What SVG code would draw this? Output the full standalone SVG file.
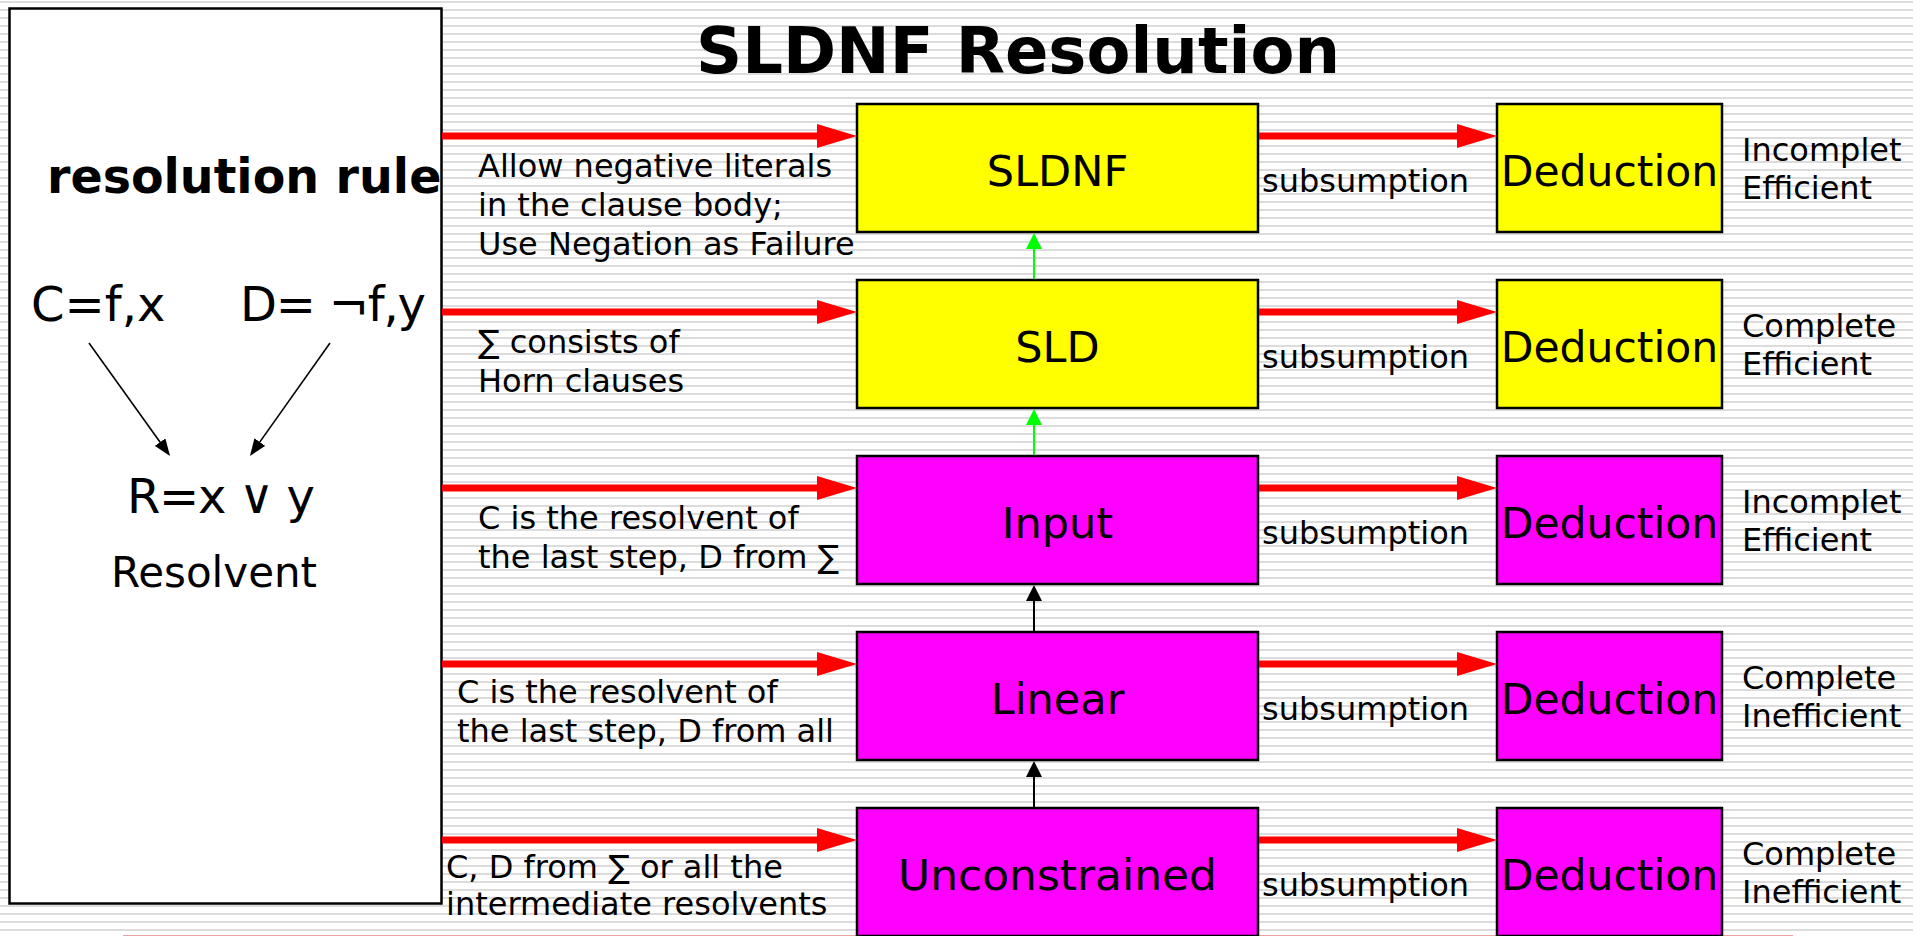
<svg xmlns="http://www.w3.org/2000/svg" width="1926" height="936" viewBox="0 0 1926 936">
  <defs>
    <pattern id="stripes" patternUnits="userSpaceOnUse" width="8" height="8">
      <rect x="0" y="1" width="8" height="2" fill="#dcdcdc"/>
    </pattern>
    <marker id="headRed" markerUnits="userSpaceOnUse" markerWidth="40" markerHeight="24" refX="2" refY="12" orient="auto">
      <path d="M0,0 L40,12 L0,24 z" fill="#ff0000"/>
    </marker>
    <marker id="headGreen" markerUnits="userSpaceOnUse" markerWidth="16" markerHeight="16" refX="1" refY="8" orient="auto">
      <path d="M0,0 L16,8 L0,16 z" fill="#00ff00"/>
    </marker>
    <marker id="headBlack" markerUnits="userSpaceOnUse" markerWidth="16" markerHeight="16" refX="1" refY="8" orient="auto">
      <path d="M0,0 L16,8 L0,16 z" fill="#000000"/>
    </marker>
    <marker id="headThin" markerUnits="userSpaceOnUse" markerWidth="17" markerHeight="13" refX="1" refY="6.5" orient="auto">
      <path d="M0,0 L17,6.5 L0,13 z" fill="#000000"/>
    </marker>
  </defs>
  <style>
    text { font-family: "DejaVu Sans", Verdana, sans-serif; fill: #000; }
    .title { font-size: 64px; font-weight: bold; }
    .rule { font-size: 47.5px; font-weight: bold; }
    .formula { font-size: 48px; }
    .res { font-size: 42px; }
    .big { font-size: 43px; }
    .ded { font-size: 42.5px; }
    .sm { font-size: 32px; }
    .node { stroke: #000; stroke-width: 2.5; }
    .yellow { fill: #ffff00; }
    .magenta { fill: #ff00ff; }
    .red { stroke: #ff0000; stroke-width: 7; fill: none; marker-end: url(#headRed); }
    .green { stroke: #00ff00; stroke-width: 2; fill: none; marker-end: url(#headGreen); }
    .black { stroke: #000; stroke-width: 2; fill: none; marker-end: url(#headBlack); }
    .thin { stroke: #000; stroke-width: 1.6; fill: none; marker-end: url(#headThin); }
  </style>

  <!-- striped slide background -->
  <rect x="0" y="0" width="1926" height="936" fill="#ffffff"/>
  <rect x="0" y="0" width="1913" height="936" fill="url(#stripes)"/>
  <line x1="123" y1="935.5" x2="1793" y2="935.5" stroke="#e9a3a3" stroke-width="1"/>

  <text class="title" x="1018" y="73" text-anchor="middle">SLDNF Resolution</text>

  <!-- resolution rule panel -->
  <g id="rule-panel">
    <rect x="9.5" y="8.5" width="432" height="895" fill="#ffffff" stroke="#000" stroke-width="2.5"/>
    <text class="rule" x="47" y="193">resolution rule</text>
    <text class="formula" x="31" y="321">C=f,x</text>
    <text class="formula" x="240" y="321" textLength="186" lengthAdjust="spacing">D= ¬f,y</text>
    <line class="thin" x1="89" y1="343" x2="160.7" y2="443"/>
    <line class="thin" x1="330" y1="343" x2="259.2" y2="442.9"/>
    <text class="formula" x="127" y="513" textLength="188" lengthAdjust="spacing">R=x ∨ y</text>
    <text class="res" x="214" y="587" text-anchor="middle">Resolvent</text>
  </g>

  <!-- strategy nodes -->
  <g id="sldnf">
    <rect class="node yellow" x="857" y="104" width="401" height="128"/>
    <text class="big" x="1057.5" y="186" text-anchor="middle">SLDNF</text>
  </g>
  <g id="sld">
    <rect class="node yellow" x="857" y="280" width="401" height="128"/>
    <text class="big" x="1057.5" y="362" text-anchor="middle">SLD</text>
  </g>
  <g id="input">
    <rect class="node magenta" x="857" y="456" width="401" height="128"/>
    <text class="big" x="1057.5" y="538" text-anchor="middle">Input</text>
  </g>
  <g id="linear">
    <rect class="node magenta" x="857" y="632" width="401" height="128"/>
    <text class="big" x="1057.5" y="714" text-anchor="middle">Linear</text>
  </g>
  <g id="unconstrained">
    <rect class="node magenta" x="857" y="808" width="401" height="128"/>
    <text class="big" x="1057.5" y="890" text-anchor="middle" textLength="319" lengthAdjust="spacingAndGlyphs">Unconstrained</text>
  </g>

  <!-- deduction nodes -->
  <g id="deduction-1">
    <rect class="node yellow" x="1497" y="104" width="225" height="128"/>
    <text class="ded" x="1609.5" y="186" text-anchor="middle">Deduction</text>
  </g>
  <g id="deduction-2">
    <rect class="node yellow" x="1497" y="280" width="225" height="128"/>
    <text class="ded" x="1609.5" y="362" text-anchor="middle">Deduction</text>
  </g>
  <g id="deduction-3">
    <rect class="node magenta" x="1497" y="456" width="225" height="128"/>
    <text class="ded" x="1609.5" y="538" text-anchor="middle">Deduction</text>
  </g>
  <g id="deduction-4">
    <rect class="node magenta" x="1497" y="632" width="225" height="128"/>
    <text class="ded" x="1609.5" y="714" text-anchor="middle">Deduction</text>
  </g>
  <g id="deduction-5">
    <rect class="node magenta" x="1497" y="808" width="225" height="128"/>
    <text class="ded" x="1609.5" y="890" text-anchor="middle">Deduction</text>
  </g>

  <!-- connectors -->
  <g id="connectors">
    <line class="red" x1="442" y1="136" x2="819" y2="136"/>
    <line class="red" x1="442" y1="312" x2="819" y2="312"/>
    <line class="red" x1="442" y1="488" x2="819" y2="488"/>
    <line class="red" x1="442" y1="664" x2="819" y2="664"/>
    <line class="red" x1="442" y1="840" x2="819" y2="840"/>

    <line class="red" x1="1259" y1="136" x2="1459" y2="136"/>
    <line class="red" x1="1259" y1="312" x2="1459" y2="312"/>
    <line class="red" x1="1259" y1="488" x2="1459" y2="488"/>
    <line class="red" x1="1259" y1="664" x2="1459" y2="664"/>
    <line class="red" x1="1259" y1="840" x2="1459" y2="840"/>

    <line class="green" x1="1034" y1="279" x2="1034" y2="248"/>
    <line class="green" x1="1034" y1="455" x2="1034" y2="424"/>
    <line class="black" x1="1034" y1="631" x2="1034" y2="600"/>
    <line class="black" x1="1034" y1="807" x2="1034" y2="776"/>
  </g>

  <!-- conditions on the incoming arrows -->
  <g id="conditions">
    <text class="sm" x="478" y="177">Allow negative literals</text>
    <text class="sm" x="478" y="216">in the clause body;</text>
    <text class="sm" x="478" y="255">Use Negation as Failure</text>
    <text class="sm" x="478" y="353">∑ consists of</text>
    <text class="sm" x="478" y="392">Horn clauses</text>
    <text class="sm" x="478" y="529">C is the resolvent of</text>
    <text class="sm" x="478" y="568">the last step, D from ∑</text>
    <text class="sm" x="457" y="703">C is the resolvent of</text>
    <text class="sm" x="457" y="742">the last step, D from all</text>
    <text class="sm" x="446" y="878">C, D from ∑ or all the</text>
    <text class="sm" x="446" y="915">intermediate resolvents</text>
  </g>

  <!-- subsumption labels -->
  <g id="subsumption-labels">
    <text class="sm" x="1262" y="192">subsumption</text>
    <text class="sm" x="1262" y="368">subsumption</text>
    <text class="sm" x="1262" y="544">subsumption</text>
    <text class="sm" x="1262" y="720">subsumption</text>
    <text class="sm" x="1262" y="896">subsumption</text>
  </g>

  <!-- completeness / efficiency notes -->
  <g id="properties">
    <text class="sm" x="1742" y="161">Incomplet</text>
    <text class="sm" x="1742" y="199">Efficient</text>
    <text class="sm" x="1742" y="337">Complete</text>
    <text class="sm" x="1742" y="375">Efficient</text>
    <text class="sm" x="1742" y="513">Incomplet</text>
    <text class="sm" x="1742" y="551">Efficient</text>
    <text class="sm" x="1742" y="689">Complete</text>
    <text class="sm" x="1742" y="727">Inefficient</text>
    <text class="sm" x="1742" y="865">Complete</text>
    <text class="sm" x="1742" y="903">Inefficient</text>
  </g>
</svg>
